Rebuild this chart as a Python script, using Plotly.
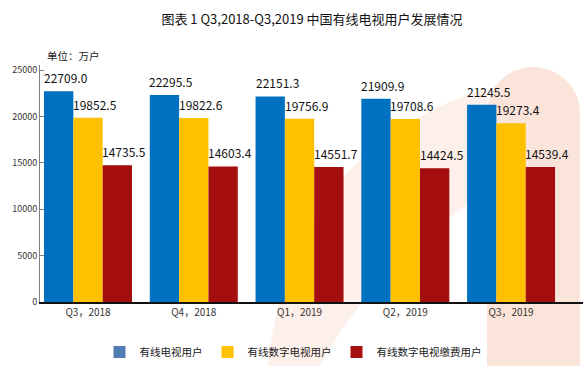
import plotly.graph_objects as go

# ---- data ----
categories = ["Q3，2018", "Q4，2018", "Q1，2019", "Q2，2019", "Q3，2019"]
series_names = ["有线电视用户", "有线数字电视用户", "有线数字电视缴费用户"]
cable_tv = [22709.0, 22295.5, 22151.3, 21909.9, 21245.5]
digital_tv = [19852.5, 19822.6, 19756.9, 19708.6, 19273.4]
digital_paid = [14735.5, 14603.4, 14551.7, 14424.5, 14539.4]
y_ticks = [0, 5000, 10000, 15000, 20000, 25000]

bar_colors = ["#0070C0", "#FFC000", "#A50E0E"]
legend_colors = ["#4F7DB3", "#FFC000", "#A50E0E"]

W, H = 588, 366
L, R, T, B = 40, 5, 65, 64
PW, PH = W - L - R, H - T - B
BARGAP = 0.168
XR = [-0.454, 4.68]
px_per_cat = PW / (XR[1] - XR[0])
bar_px = (1 - BARGAP) / 3 * px_per_cat


def pp(x, y):
    return f"{(x - L) / PW:.4f},{(H - B - y) / PH:.4f}"


fig = go.Figure()
series = [cable_tv, digital_tv, digital_paid]
for i, (name, vals) in enumerate(zip(series_names, series)):
    fig.add_trace(go.Bar(x=categories, y=vals, name=name, marker_color=bar_colors[i],
                         marker_line_width=0, showlegend=False, offsetgroup=str(i)))
for i, name in enumerate(series_names):
    fig.add_trace(go.Bar(x=[categories[0]], y=[None], name=name, marker_color=legend_colors[i],
                         marker_line_width=0, showlegend=True, offsetgroup=str(i)))

annotations = []
for i, vals in enumerate(series):
    for c, v in zip(categories, vals):
        annotations.append(dict(x=c, y=v, xref="x", yref="y", text=f"{v:.1f}",
                                showarrow=False, xanchor="center", yanchor="bottom",
                                xshift=(i - 1) * bar_px + 7, yshift=3,
                                font=dict(size=12, color="#111111",
                                          family="Noto Sans CJK SC, Noto Sans, sans-serif")))
annotations.append(dict(x=(45 - L) / PW, y=(H - B - 55) / PH, xref="paper", yref="paper",
                        text="单位：万户", showarrow=False, xanchor="left", yanchor="middle",
                        font=dict(size=10.5, color="#222222", family="Noto Sans CJK SC")))

shapes = [
    dict(type="path", xref="paper", yref="paper", layer="below", line_width=0,
         fillcolor="#FBE4DA",
         path=(f"M {pp(487, 366)} L {pp(487, 113)} C {pp(487, 87)} {pp(508, 67)} {pp(533, 67)} "
               f"C {pp(558, 67)} {pp(580, 87)} {pp(580, 113)} L {pp(580, 366)} Z")),
    dict(type="path", xref="paper", yref="paper", layer="below", line_width=0,
         fillcolor="#FDEFE9",
         path=(f"M {pp(268, 366)} Q {pp(290, 150)} {pp(487, 88)} L {pp(487, 190)} "
               f"Q {pp(370, 270)} {pp(320, 366)} Z")),
]

fig.update_layout(
    width=W, height=H,
    margin=dict(l=L, r=R, t=T, b=B, autoexpand=False),
    paper_bgcolor="white", plot_bgcolor="rgba(0,0,0,0)",
    barmode="group", bargap=BARGAP, bargroupgap=0,
    font=dict(family="Noto Sans CJK SC, Noto Sans, sans-serif", color="#222222"),
    title=dict(text="图表 1 Q3,2018-Q3,2019 中国有线电视用户发展情况",
               x=312 / W, xref="container", xanchor="center",
               y=1 - 19 / H, yref="container", yanchor="middle",
               font=dict(size=13, color="#111111")),
    xaxis=dict(range=XR, showline=True, linecolor="#111111", linewidth=1.5,
               ticks="", showgrid=False, zeroline=False, automargin=False,
               tickfont=dict(size=10, color="#333333")),
    yaxis=dict(range=[0, 25000 * (H - B - T) / (H - B - 70)], tickvals=y_ticks,
               tickformat="d", automargin=False,
               showline=True, linecolor="#7F7F7F", linewidth=1,
               ticks="inside", ticklen=4, tickcolor="#7F7F7F",
               showgrid=False, zeroline=False,
               tickfont=dict(size=9, color="#333333")),
    legend=dict(orientation="h", x=293 / W, xref="container", xanchor="center",
                y=1 - 352 / H, yref="container", yanchor="middle",
                font=dict(size=10.5, color="#222222"), bgcolor="rgba(0,0,0,0)"),
    annotations=annotations,
    shapes=shapes,
)

fig.write_html("out.html", post_script="document.body.style.margin='0';",
               config={"displayModeBar": False})
